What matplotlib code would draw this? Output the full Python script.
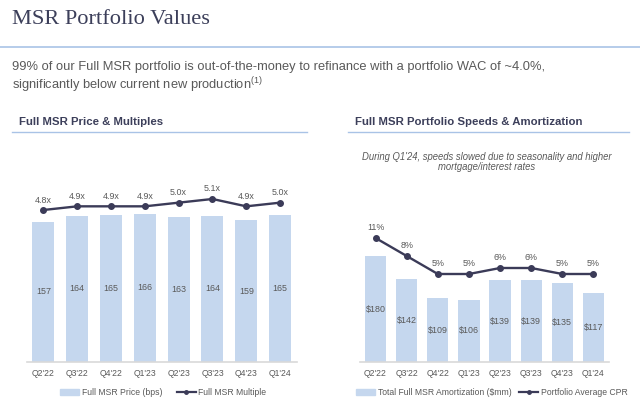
import matplotlib
matplotlib.use("Agg")
import matplotlib.pyplot as plt
from matplotlib.lines import Line2D
from matplotlib.patches import Patch

quarters = ["Q2'22", "Q3'22", "Q4'22", "Q1'23", "Q2'23", "Q3'23", "Q4'23", "Q1'24"]
msr_price = [157, 164, 165, 166, 163, 164, 159, 165]
msr_multiple = [4.8, 4.9, 4.9, 4.9, 5.0, 5.1, 4.9, 5.0]
amortization = [180, 142, 109, 106, 139, 139, 135, 117]
cpr = [11, 8, 5, 5, 6, 6, 5, 5]

BAR = "#c5d7ee"
LINE = "#3b3b58"
TXT = "#595959"
HEAD = "#3c3f5a"
RULE = "#a9c3e6"

plt.rcParams['font.family'] = ['Liberation Sans', 'DejaVu Sans']
plt.rcParams['mathtext.fontset'] = 'custom'
plt.rcParams['mathtext.rm'] = 'Liberation Sans'

W, H = 640, 407
fig = plt.figure(figsize=(6.4, 4.07), dpi=100)

def fx(x): return x / W
def fy(y): return 1 - y / H

CH = 6.2   # chart text size

# Title & rules
fig.text(fx(12), fy(20), "MSR Portfolio Values", family=['Liberation Serif'], fontsize=16.1,
         color=HEAD, va='center', ha='left')
fig.add_artist(Line2D([0, 1], [fy(47), fy(47)], color=RULE, lw=1.2))
fig.text(fx(12), fy(67), "99% of our Full MSR portfolio is out-of-the-money to refinance with a portfolio WAC of ~4.0%,",
         fontsize=9.3, color=TXT, va='center', ha='left')
fig.text(fx(12), fy(85), r"significantly below current new production$^{\mathrm{(1)}}$",
         fontsize=9.3, color=TXT, va='center', ha='left')

fig.text(fx(19), fy(122), "Full MSR Price & Multiples", fontsize=8.2, weight='bold',
         color=HEAD, va='center', ha='left')
fig.add_artist(Line2D([fx(12), fx(307)], [fy(132), fy(132)], color=RULE, lw=1.0))
fig.text(fx(355), fy(122), "Full MSR Portfolio Speeds & Amortization", fontsize=8.2, weight='bold',
         color=HEAD, va='center', ha='left')
fig.add_artist(Line2D([fx(348), fx(629)], [fy(132), fy(132)], color=RULE, lw=1.0))
fig.text(fx(487), fy(157), "During Q1'24, speeds slowed due to seasonality and higher",
         fontsize=6.85, style='italic', color=TXT, va='center', ha='center')
fig.text(fx(487), fy(167.5), "mortgage/interest rates",
         fontsize=6.85, style='italic', color=TXT, va='center', ha='center')

x = list(range(len(quarters)))

def style_ax(ax):
    for s in ['top', 'right', 'left']:
        ax.spines[s].set_visible(False)
    ax.spines['bottom'].set_color('#d9d9d9')
    ax.spines['bottom'].set_linewidth(1.2)
    ax.set_yticks([])
    ax.set_xticks(x)
    ax.set_xticklabels(quarters, fontsize=6.2, color=TXT)
    ax.tick_params(axis='x', length=0, pad=5)
    ax.set_xlim(-0.5, 7.5)

def legend(ax, labels, x0, cs):
    h = [Patch(color=BAR), Line2D([], [], color=LINE, lw=1.6, marker='o', ms=2.5)]
    ax.legend(h, labels, loc='center left',
              bbox_to_anchor=(fx(x0), fy(392.5)), bbox_transform=fig.transFigure,
              ncol=2, frameon=False, fontsize=CH, labelcolor=TXT, handlelength=2.2,
              handleheight=0.55, handletextpad=0.3, columnspacing=cs, borderpad=0,
              borderaxespad=0)

# Left chart
top, base = 150, 362
ax1 = fig.add_axes([fx(26.5), fy(base), fx(297 - 26.5), (base - top) / H])
ax1.bar(x, msr_price, width=0.65, color=BAR)
ax1.set_ylim(0, (base - top) / 0.892)
style_ax(ax1)
for xi, v in zip(x, msr_price):
    ax1.text(xi, v / 2, f"{v}", ha='center', va='center', fontsize=6.4, color=TXT)
ax1b = ax1.twinx()
ax1b.plot(x, msr_multiple, color=LINE, lw=1.7, marker='o', ms=4)
ax1b.set_ylim(4.8 - (base - 210) / 36.7, 4.8 + (210 - top) / 36.7)
ax1b.axis('off')
for xi, v in zip(x, msr_multiple):
    ax1b.annotate(f"{v:.1f}x", (xi, v), xytext=(0, 7.2), textcoords='offset points',
                  ha='center', va='center', fontsize=6.4, color=TXT)
legend(ax1, ["Full MSR Price (bps)", "Full MSR Multiple"], 60, 1.7)

# Right chart
top2 = 200
ax2 = fig.add_axes([fx(360), fy(base), fx(609 - 360), (base - top2) / H])
ax2.bar(x, amortization, width=0.68, color=BAR)
ax2.set_ylim(0, (base - top2) / 0.587)
style_ax(ax2)
for xi, v in zip(x, amortization):
    ax2.text(xi, v / 2, f"${v}", ha='center', va='center', fontsize=6.4, color=TXT)
ax2b = ax2.twinx()
ax2b.plot(x, cpr, color=LINE, lw=1.7, marker='o', ms=4)
ax2b.set_ylim(5 - (base - 274) / 6.0, 5 + (274 - top2) / 6.0)
ax2b.axis('off')
for xi, v in zip(x, cpr):
    ax2b.annotate(f"{v}%", (xi, v), xytext=(0, 7.2), textcoords='offset points',
                  ha='center', va='center', fontsize=6.4, color=TXT)
legend(ax2, ["Total Full MSR Amortization ($mm)", "Portfolio Average CPR"], 356, 0.9)

fig.savefig("out.png", dpi=100)
